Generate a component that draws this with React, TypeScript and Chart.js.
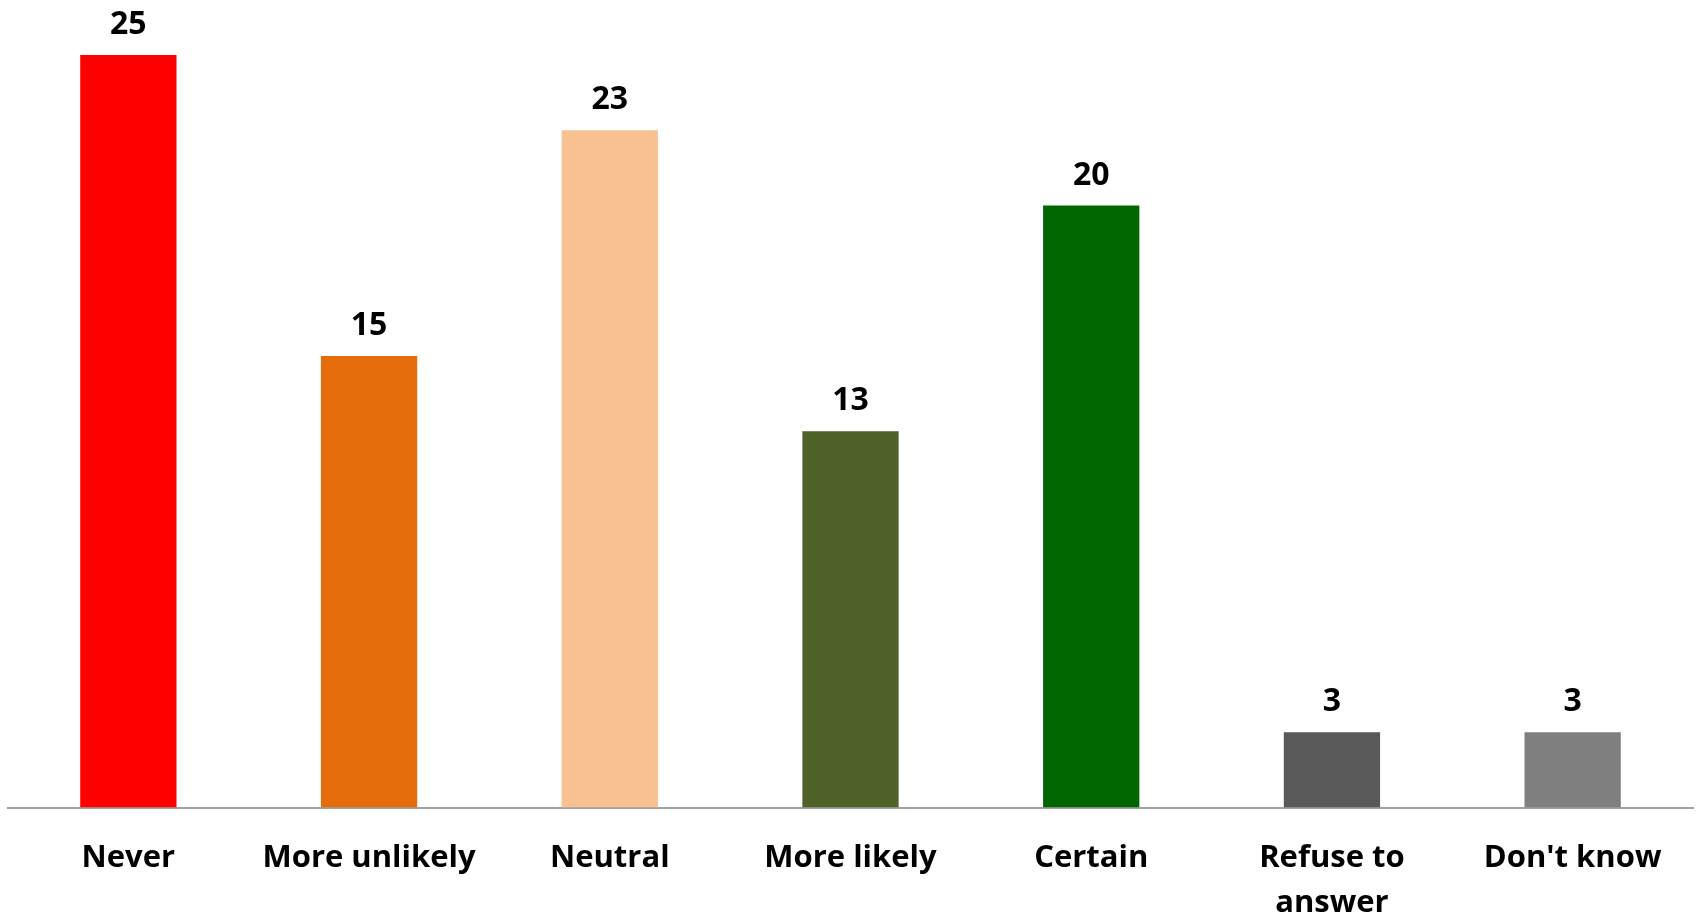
import React, { useEffect, useRef } from "react";
import { Chart, registerables } from "chart.js";

Chart.register(...registerables);

const categories: (string | string[])[] = [
  "Never",
  "More unlikely",
  "Neutral",
  "More likely",
  "Certain",
  ["Refuse to", "answer"],
  "Don't know",
];
const values: number[] = [25, 15, 22.5, 12.5, 20, 2.5, 2.5];
const barColors: string[] = [
  "#FF0000",
  "#E46C0A",
  "#F9C191",
  "#4F6228",
  "#006600",
  "#595959",
  "#7F7F7F",
];

const FONT = "'Open Sans'";

const valueLabels = {
  id: "valueLabels",
  afterDatasetsDraw(chart: any) {
    const ctx = chart.ctx;
    const meta = chart.getDatasetMeta(0);
    ctx.save();
    ctx.font = `bold 32px ${FONT}`;
    ctx.fillStyle = "#000000";
    ctx.textAlign = "center";
    ctx.textBaseline = "alphabetic";
    meta.data.forEach((bar: any, i: number) => {
      ctx.fillText(String(Math.round(values[i])), bar.x, bar.y - 21);
    });
    ctx.restore();
  },
};

export default function App() {
  const ref = useRef<HTMLCanvasElement>(null);
  useEffect(() => {
    if (!ref.current) return;
    const chart = new Chart(ref.current, {
      type: "bar",
      data: {
        labels: categories,
        datasets: [
          {
            data: values,
            backgroundColor: barColors,
            barPercentage: 0.4,
            categoryPercentage: 1,
          },
        ],
      },
      options: {
        animation: false,
        responsive: true,
        maintainAspectRatio: false,
        layout: { padding: { top: 55, left: 8, right: 5, bottom: 0 } },
        plugins: { legend: { display: false }, tooltip: { enabled: false } },
        scales: {
          x: {
            grid: { display: false },
            border: { display: true, color: "#A0A0A0", width: 2 },
            ticks: {
              color: "#000000",
              padding: 20,
              autoSkip: false,
              maxRotation: 0,
              font: { family: FONT, weight: "bold", size: 31, lineHeight: 1.45 },
            },
            afterFit(scale: any) {
              scale.height = 915 - 807.5;
            },
          },
          y: {
            display: false,
            min: 0,
            max: 25,
          },
        },
      },
      plugins: [valueLabels],
    });
    return () => chart.destroy();
  }, []);
  return (
    <div style={{ position: "absolute", left: 0, top: 0, width: 1698, height: 915, background: "#fff" }}>
      <canvas ref={ref} />
    </div>
  );
}
